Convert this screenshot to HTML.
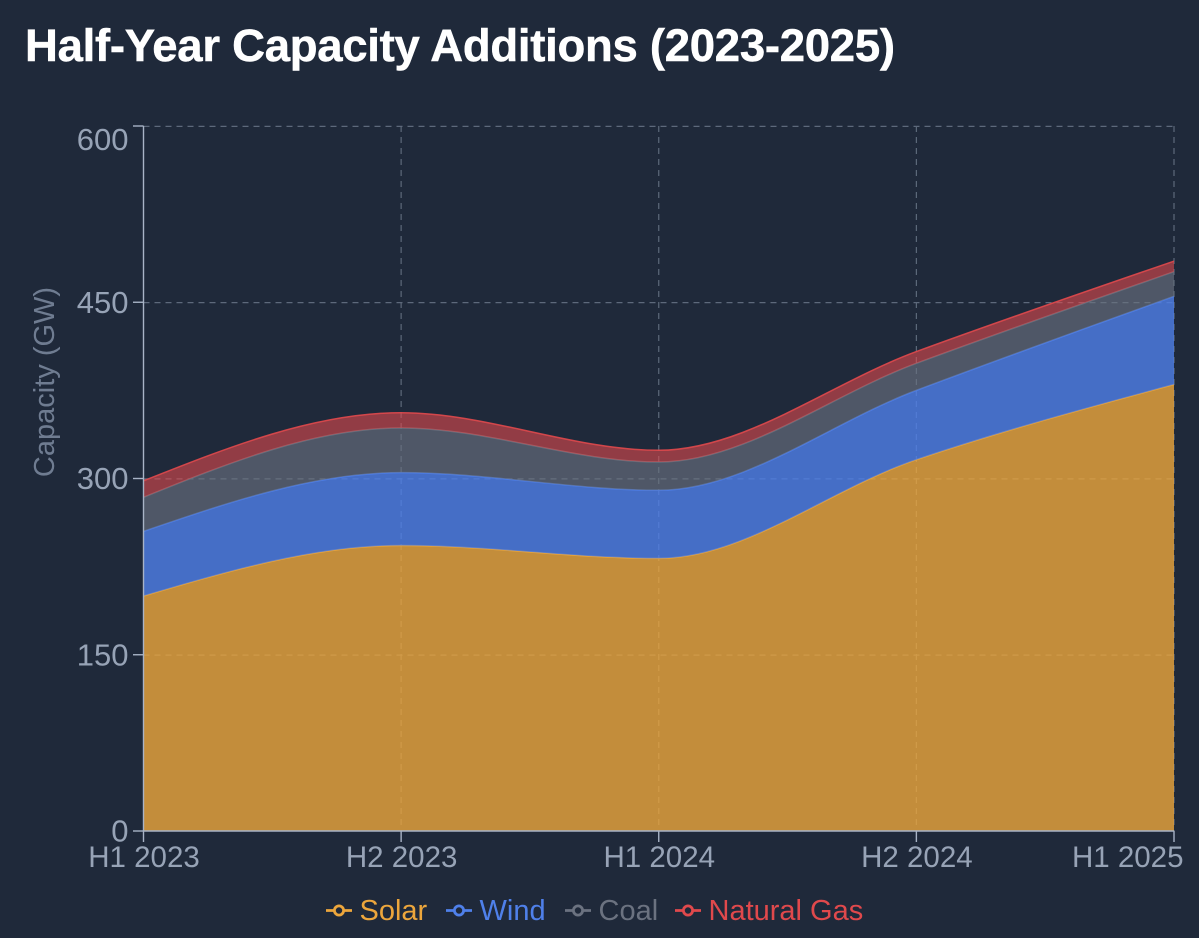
<!DOCTYPE html>
<html lang="en">
<head>
<meta charset="utf-8">
<title>Half-Year Capacity Additions (2023-2025)</title>
<style>
html,body{margin:0;padding:0;background:#1f293a;width:1199px;height:938px;overflow:hidden}
svg{display:block;font-family:"Liberation Sans",Arial,sans-serif}
</style>
</head>
<body>
<svg id="chart" width="1199" height="938" viewBox="0 0 1199 938" xmlns="http://www.w3.org/2000/svg">
<text x="25" y="61" font-size="45.5" font-weight="700" fill="#ffffff" stroke="#ffffff" stroke-width="0.5" textLength="870" lengthAdjust="spacing">Half-Year Capacity Additions (2023-2025)</text>
<g id="grid"></g>
<g id="areas"></g>
<g id="axes"></g>
<text transform="translate(54 382) rotate(-90)" text-anchor="middle" font-size="29" fill="#6f7c91">Capacity (GW)</text>
<g id="legend"></g>
</svg>
<script>
const categories = ['H1 2023', 'H2 2023', 'H1 2024', 'H2 2024', 'H1 2025'];
const solarValues = [200, 243, 232, 316, 380];
const windValues = [55, 62, 58, 59, 75];
const coalValues = [29, 38, 24, 23, 21];
const gasValues = [14, 13, 10, 10, 9];
const yTicks = [0, 150, 300, 450, 600];
const seriesNames = ['Solar', 'Wind', 'Coal', 'Natural Gas'];
const seriesValues = [solarValues, windValues, coalValues, gasValues];

const seriesColors = ['#eca63c', '#4f80ea', '#6b7280', '#e0494c'];
const seriesOpacity = [0.8, 0.8, 0.64, 0.6];
const bgColor = '#1f293a';
const NS = 'http://www.w3.org/2000/svg';
const plot = {left: 143.5, right: 1174, top: 126, bottom: 831};
const yMax = yTicks[yTicks.length - 1];

function xScale(i) {
  return plot.left + (plot.right - plot.left) * i / (categories.length - 1);
}
function yScale(v) {
  return plot.bottom - (plot.bottom - plot.top) * v / yMax;
}
function make(tag, attrs, parent) {
  const el = document.createElementNS(NS, tag);
  for (const k in attrs) el.setAttribute(k, attrs[k]);
  parent.appendChild(el);
  return el;
}
/* Monotone-X cubic tangents */
function tangents(pts) {
  const n = pts.length;
  const t = new Array(n).fill(0);
  for (let i = 1; i < n - 1; i++) {
    const h0 = pts[i][0] - pts[i - 1][0];
    const h1 = pts[i + 1][0] - pts[i][0];
    const s0 = (pts[i][1] - pts[i - 1][1]) / h0;
    const s1 = (pts[i + 1][1] - pts[i][1]) / h1;
    const p = (s0 * h1 + s1 * h0) / (h0 + h1);
    t[i] = (Math.sign(s0) + Math.sign(s1)) * Math.min(Math.abs(s0), Math.abs(s1), 0.5 * Math.abs(p));
  }
  const hA = pts[1][0] - pts[0][0];
  t[0] = (3 * (pts[1][1] - pts[0][1]) / hA - t[1]) / 2;
  const hB = pts[n - 1][0] - pts[n - 2][0];
  t[n - 1] = (3 * (pts[n - 1][1] - pts[n - 2][1]) / hB - t[n - 2]) / 2;
  return t;
}
function curveForward(pts) {
  const t = tangents(pts);
  let d = '';
  for (let i = 1; i < pts.length; i++) {
    const dx = (pts[i][0] - pts[i - 1][0]) / 3;
    d += ' C' + (pts[i - 1][0] + dx).toFixed(2) + ' ' + (pts[i - 1][1] + dx * t[i - 1]).toFixed(2) + ' ' +
      (pts[i][0] - dx).toFixed(2) + ' ' + (pts[i][1] - dx * t[i]).toFixed(2) + ' ' +
      pts[i][0].toFixed(2) + ' ' + pts[i][1].toFixed(2);
  }
  return d;
}
function curveBackward(pts) {
  const t = tangents(pts);
  let d = '';
  for (let i = pts.length - 1; i > 0; i--) {
    const dx = (pts[i][0] - pts[i - 1][0]) / 3;
    d += ' C' + (pts[i][0] - dx).toFixed(2) + ' ' + (pts[i][1] - dx * t[i]).toFixed(2) + ' ' +
      (pts[i - 1][0] + dx).toFixed(2) + ' ' + (pts[i - 1][1] + dx * t[i - 1]).toFixed(2) + ' ' +
      pts[i - 1][0].toFixed(2) + ' ' + pts[i - 1][1].toFixed(2);
  }
  return d;
}

const gridG = document.getElementById('grid');
yTicks.forEach(function (t) {
  if (t === 0) return;
  const line = make('line', {x1: plot.left, x2: plot.right, y1: yScale(t) + 0.4, y2: yScale(t) + 0.4, stroke: '#5d697b', 'stroke-width': 1.2, 'stroke-dasharray': '6 5'}, gridG);
  
  
});
categories.forEach(function (c, i) {
  if (i === 0) return;
  const line = make('line', {x1: xScale(i), x2: xScale(i), y1: plot.top, y2: plot.bottom, stroke: '#5d697b', 'stroke-width': 1.2, 'stroke-dasharray': '6 5'}, gridG);
  
  
});

const areasG = document.getElementById('areas');
const running = categories.map(function () { return 0; });
seriesValues.forEach(function (vals, s) {
  const lower = running.map(function (b, i) { return [xScale(i), yScale(b)]; });
  vals.forEach(function (v, i) { running[i] += v; });
  const upper = running.map(function (b, i) { return [xScale(i), yScale(b)]; });
  const last = lower[lower.length - 1];
  const d = 'M' + upper[0][0] + ' ' + upper[0][1] + curveForward(upper) +
    ' L' + last[0] + ' ' + last[1] + curveBackward(lower) + ' Z';
  const area = make('path', {d: d, fill: seriesColors[s], 'fill-opacity': seriesOpacity[s]}, areasG);
  
  
  const edge = make('path', {d: 'M' + upper[0][0] + ' ' + upper[0][1] + curveForward(upper), fill: 'none', stroke: seriesColors[s], 'stroke-width': 1.5, 'stroke-opacity': 0.9}, areasG);
  
  
});

const axesG = document.getElementById('axes');
const axisColor = '#a8b3c6';
const yAxisLine = make('line', {x1: plot.left, x2: plot.left, y1: plot.top, y2: plot.bottom, stroke: axisColor, 'stroke-width': 1.4}, axesG);


const xAxisLine = make('line', {x1: plot.left, x2: plot.right, y1: plot.bottom, y2: plot.bottom, stroke: axisColor, 'stroke-width': 1.4}, axesG);



yTicks.forEach(function (t) {
  const y = yScale(t);
  const tick = make('line', {x1: plot.left - 10.5, x2: plot.left, y1: y, y2: y, stroke: axisColor, 'stroke-width': 1.4}, axesG);
  
  
  const shift = t === yMax ? 24 : 10.5;
  const label = make('text', {x: 128.5, y: y + shift, 'text-anchor': 'end', 'font-size': 31, fill: '#97a3b6'}, axesG);
  label.textContent = t;
  
  
});
categories.forEach(function (c, i) {
  const x = xScale(i);
  const tick = make('line', {x1: x, x2: x, y1: plot.bottom, y2: plot.bottom + 11, stroke: axisColor, 'stroke-width': 1.4}, axesG);
  
  
  const isLast = i === categories.length - 1;
  const label = make('text', {x: isLast ? x + 9.5 : x + 0.5, y: 867, 'text-anchor': isLast ? 'end' : 'middle', 'font-size': 29.5, fill: '#97a3b6'}, axesG);
  label.textContent = c;
  
  
});

const legendG = document.getElementById('legend');
const legendIconX = [326, 446, 565, 675];
seriesNames.forEach(function (name, s) {
  const g = make('g', {style: 'cursor:pointer'}, legendG);
  
  
  const x0 = legendIconX[s];
  const icon = make('line', {x1: x0, x2: x0 + 26, y1: 910.5, y2: 910.5, stroke: seriesColors[s], 'stroke-width': 2.8}, g);
  
  
  const dot = make('circle', {cx: x0 + 13, cy: 910.5, r: 4.6, fill: bgColor, stroke: seriesColors[s], 'stroke-width': 2.8}, g);
  
  
  const label = make('text', {x: x0 + 33.5, y: 920, 'font-size': 29, fill: seriesColors[s]}, g);
  label.textContent = name;
  
  
});
</script>
</body>
</html>
